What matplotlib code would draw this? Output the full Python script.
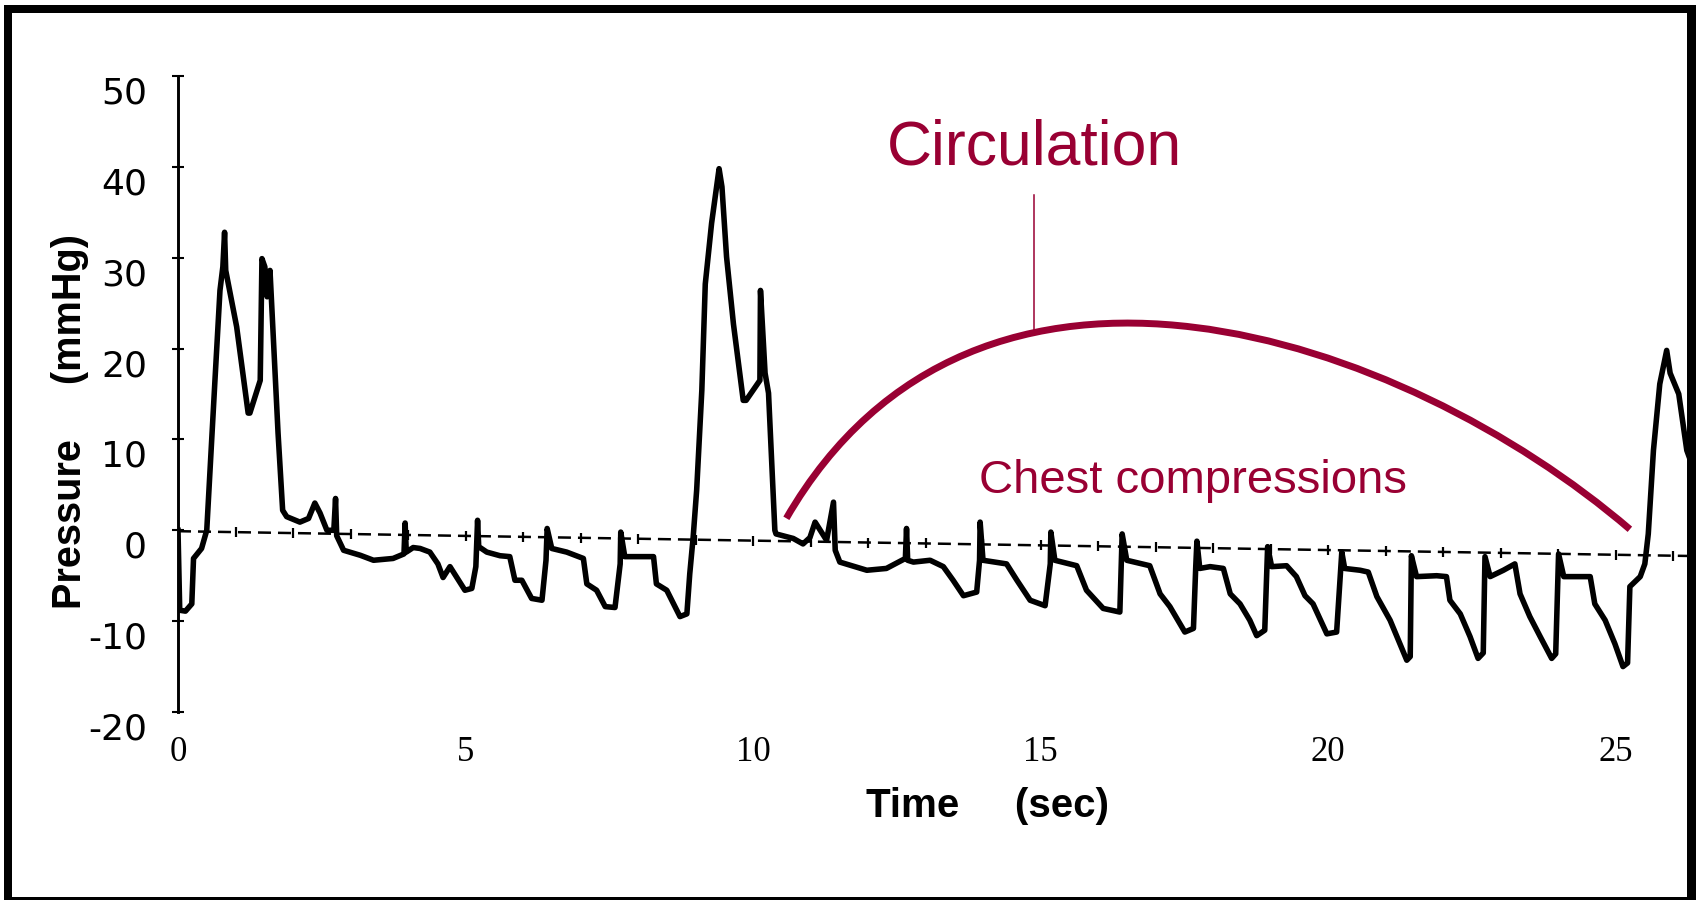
import matplotlib
matplotlib.use("Agg")
import matplotlib.pyplot as plt
from matplotlib.patches import Rectangle, PathPatch
from matplotlib.path import Path
from matplotlib.transforms import ScaledTranslation
import numpy as np

# Pressure recording (seconds, mmHg)
time_s = [
    0.00, 0.03, 0.13, 0.24, 0.27, 0.41, 0.50, 0.56, 0.64, 0.73, 0.78, 0.81, 0.83,
    1.02, 1.22, 1.25, 1.43, 1.46, 1.51, 1.55, 1.60, 1.66, 1.74, 1.82, 1.89, 2.12,
    2.27, 2.38, 2.47, 2.59, 2.71, 2.74, 2.76, 2.88, 3.17, 3.40, 3.74, 3.93, 3.95,
    3.97, 4.09,
    4.21, 4.38, 4.52, 4.61, 4.73, 4.85, 4.99, 5.11, 5.18, 5.21, 5.23, 5.37, 5.60,
    5.77, 5.86, 5.98, 6.15, 6.33, 6.40, 6.42, 6.50, 6.76, 7.05, 7.11, 7.28, 7.43,
    7.60, 7.69, 7.70, 7.77, 8.27, 8.32, 8.50, 8.73, 8.85,
    8.90, 8.96, 9.02, 9.11, 9.17, 9.28, 9.41, 9.46, 9.54, 9.66, 9.83, 9.88, 10.12,
    10.13, 10.21, 10.27, 10.38, 10.40, 10.70, 10.87, 10.99, 11.08, 11.28, 11.40,
    11.43, 11.51, 11.98, 12.32, 12.65, 12.67, 12.69, 12.79, 13.08,
    13.31, 13.48, 13.66, 13.89, 13.94, 13.95, 14.00, 14.41, 14.59, 14.82, 15.08,
    15.17, 15.18, 15.25, 15.63, 15.80, 16.09, 16.38, 16.41, 16.42, 16.50, 16.90,
    17.08, 17.25, 17.51, 17.66, 17.70, 17.72,
    17.77, 17.95, 18.18, 18.30, 18.47, 18.64, 18.76, 18.90, 18.95, 19.02, 19.28,
    19.45, 19.60, 19.74, 19.98, 20.15, 20.24, 20.29, 20.56, 20.70, 20.85, 21.08,
    21.37, 21.43, 21.45, 21.54, 21.89, 22.06,
    22.12, 22.30, 22.47, 22.61, 22.70, 22.73, 22.82, 23.05, 23.25, 23.34, 23.51,
    23.69, 23.89, 23.96, 24.01, 24.10, 24.56, 24.64, 24.82, 24.99, 25.13, 25.21,
    25.25, 25.43, 25.51, 25.57, 25.66, 25.77, 25.89, 25.95, 26.10, 26.24, 26.40,
]
pressure = [
    0.0, -8.8, -8.9, -8.1, -3.1, -2.0, 0.0, 7.0, 16.2, 26.4, 29.0, 32.8, 28.6,
    22.4, 12.9, 12.9, 16.5, 29.9, 29.0, 25.7, 28.6, 20.9, 10.7, 2.2, 1.5, 0.9,
    1.3, 3.0, 1.9, 0.0, 0.0, 3.5, -0.6, -2.2, -2.75, -3.3, -3.1, -2.6, 0.8,
    -2.4, -1.9,
    -2.0, -2.4, -3.7, -5.2, -4.0, -5.2, -6.6, -6.4, -4.0, 1.1, -1.8, -2.4, -2.8,
    -2.9, -5.5, -5.5, -7.5, -7.7, -3.3, 0.2, -2.0, -2.4, -3.1, -5.9, -6.6, -8.4,
    -8.5, -3.7, -0.2, -2.9, -2.9, -5.9, -6.6, -9.5, -9.2,
    -4.8, -0.7, 4.4, 15.4, 27.1, 33.8, 39.8, 37.8, 30.1, 22.7, 14.3, 14.3, 16.5,
    26.4, 17.3, 15.1, 0.0, -0.4, -0.9, -1.5, -0.8, 0.9, -1.1, 3.1,
    -2.2, -3.5, -4.4, -4.2, -3.1, 0.2, -3.3, -3.5, -3.3,
    -4.0, -5.5, -7.2, -6.8, -3.3, 0.9, -3.3, -3.7, -5.5, -7.7, -8.3,
    -3.7, -0.2, -3.3, -3.9, -6.6, -8.6, -9.0, -2.6, -0.4, -3.3, -3.9,
    -7.0, -8.4, -11.2, -10.8, -4.0, -1.2,
    -4.2, -4.0, -4.2, -7.0, -8.1, -9.9, -11.6, -11.0, -1.8, -4.0, -3.9,
    -5.1, -7.2, -8.1, -11.4, -11.2, -2.4, -4.2, -4.4, -4.6, -7.3, -9.9,
    -14.3, -13.9, -2.8, -5.1, -5.0, -5.1,
    -7.7, -9.2, -11.7, -14.1, -13.5, -2.9, -5.1, -4.4, -3.7, -7.0, -9.5,
    -11.7, -14.1, -13.6, -2.6, -5.1, -5.1, -8.1, -9.9, -12.5, -15.0, -14.6,
    -6.2, -5.1, -3.7, -0.4, 8.8, 16.1, 19.8, 17.3, 15.0, 8.8, 6.0,
]

# zero reference line of the recorder (drifts slightly), with second marks
baseline_t = [0.0, 26.5]
baseline_p = [-0.1, -2.85]
second_marks = np.arange(1, 27)

# bracket over the chest compression period: cubic Bezier end and control points
arc_t = [10.58, 13.89, 21.29, 25.25]
arc_p = [1.32, 37.54, 21.57, 0.11]

y_ticks = [-20, -10, 0, 10, 20, 30, 40, 50]
x_ticks = [0, 5, 10, 15, 20, 25]

CRIMSON = "#990033"
W, H = 1696, 900

fig = plt.figure(figsize=(W / 100, H / 100), dpi=100)
ax = fig.add_axes([178 / W, 188 / H, (W - 178) / W, 636 / H])
ax.set_xlim(0, 1518 / 57.5)
ax.set_ylim(-20, 50)

ax.plot(baseline_t, baseline_p, color="black", lw=1.8, ls=(0, (5.2, 2.8)), zorder=2)
ax.plot(second_marks, np.interp(second_marks, baseline_t, baseline_p),
        ls="none", marker="|", ms=7, mew=1.6, color="black", zorder=2)
ax.plot(time_s, pressure, color="black", lw=4.0, solid_joinstyle="round", zorder=3)

# annotations
arc = Path(list(zip(arc_t, arc_p)), [Path.MOVETO, Path.CURVE4, Path.CURVE4, Path.CURVE4])
ax.add_patch(PathPatch(arc, facecolor="none", edgecolor=CRIMSON, lw=5,
                       capstyle="butt", zorder=4))
ax.plot([14.89, 14.89], [36.9, 21.8], color=CRIMSON, lw=1.1, zorder=4)
ax.text(14.9, 40.3, "Circulation", ha="center", va="baseline", fontsize=45,
        color=CRIMSON, family="Liberation Sans")
ax.text(13.93, 4.07, "Chest compressions", ha="left", va="baseline", fontsize=34,
        color=CRIMSON, family="Liberation Sans")

# axes styling
for side in ["top", "right", "bottom"]:
    ax.spines[side].set_visible(False)
ax.spines["left"].set_linewidth(2.1)
ax.set_yticks(y_ticks)
ax.set_yticklabels([str(v) for v in y_ticks], family="DejaVu Sans", fontsize=26)
ax.tick_params(axis="y", direction="inout", length=8.5, width=1.5, pad=18)
ax.set_xticks(x_ticks)
ax.set_xticklabels([str(v) for v in x_ticks], family="Liberation Serif", fontsize=25)
ax.tick_params(axis="x", length=0, pad=17)

shift = ScaledTranslation(0, -0.14, fig.dpi_scale_trans)
for tick in ax.yaxis.get_major_ticks():
    tick.label1.set_transform(tick.label1.get_transform() + shift)

ax.set_xlabel("Time     (sec)", fontsize=29, fontweight="bold", family="Liberation Sans")
ax.xaxis.set_label_coords(0.533, -0.148)
ax.xaxis.label.set_va("center")
ax.set_ylabel("Pressure     (mmHg)", fontsize=28.5, fontweight="bold", family="Liberation Sans")
ax.yaxis.set_label_coords(-0.0711, 0.4575)
ax.yaxis.label.set_va("center")

# frame around the figure
for x0, y0, w, h in [(4, 0, 7.5, 895), (4, 887, 1692, 8), (1687, 0, 9, 895), (4, 0, 1692, 3)]:
    fig.add_artist(Rectangle((x0 / W, y0 / H), w / W, h / H, transform=fig.transFigure,
                             facecolor="black", edgecolor="none", zorder=10))

fig.savefig("out.png", dpi=100)
